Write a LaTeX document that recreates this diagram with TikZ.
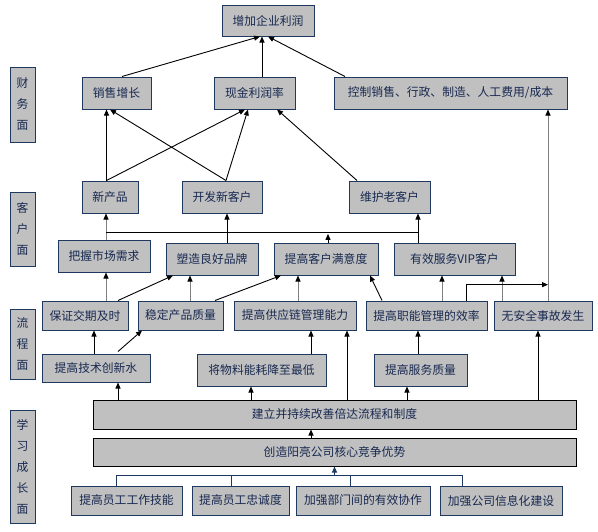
\documentclass[tikz,border=0pt]{standalone}
\usepackage{fontspec}
\setmainfont{Noto Sans CJK SC}
\usepackage{tikz}
\usetikzlibrary{arrows.meta, calc}

\definecolor{boxgray}{RGB}{192,192,192}
\definecolor{boxline}{RGB}{31,56,96}
\definecolor{boxtext}{RGB}{23,40,80}

\begin{document}
\begin{tikzpicture}[x=1pt, y=-1pt, line width=0.9pt,
    font=\fontsize{11.8}{14}\selectfont,
    box/.style={draw=boxline, fill=boxgray, text=boxtext, line width=1pt, inner sep=0pt},
    wide/.style={box, draw=black, minimum width=483pt},
    side/.style={box, minimum width=25pt, align=center, font=\fontsize{11.8}{21}\selectfont},
    arr/.style={-{Triangle[length=6pt, width=5pt]}},
    garr/.style={draw=black!50, -{Triangle[length=6pt, width=5pt, color=black]}},
    nline/.style={draw=boxline},
    narr/.style={draw=boxline, -{Triangle[length=6pt, width=5pt]}}]

\useasboundingbox (0,0) rectangle (598,531);

% ---- Side labels --------------------------------------------------------
\node[side, minimum height=75pt] (lblcw) at (22.5,104.5) {财\\务\\面};
\node[side, minimum height=74pt] (lblkh) at (22.5,229) {客\\户\\面};
\node[side, minimum height=70pt] (lbllc) at (22.5,344) {流\\程\\面};
\node[side, minimum height=113pt] (lblxx) at (22.5,466.5) {学\\习\\成\\长\\面};

% ---- Finance --------------------------------------------------------------
\node[box, minimum width=92pt, minimum height=31pt] (zjlr) at (268,20.5) {增加企业利润};
\node[box, minimum width=69pt, minimum height=32pt] (xszz) at (116.5,93) {销售增长};
\node[box, minimum width=81pt, minimum height=32pt] (xjlr) at (254.5,93) {现金利润率};
\node[box, minimum width=233pt, minimum height=32pt] (kzcb) at (450.5,93) {控制销售、行政、制造、人工费用/成本};

% ---- Customer -------------------------------------------------------------
\node[box, minimum width=56pt, minimum height=32pt] (xcp) at (110,197) {新产品};
\node[box, minimum width=80pt, minimum height=32pt] (kfkh) at (222,197) {开发新客户};
\node[box, minimum width=81pt, minimum height=32pt] (whkh) at (389.5,197) {维护老客户};
\node[box, minimum width=92pt, minimum height=32pt] (bwsc) at (104,256) {把握市场需求};
\node[box, minimum width=92pt, minimum height=32pt] (szpp) at (212,259) {塑造良好品牌};
\node[box, minimum width=104pt, minimum height=32pt] (tgmy) at (326,259) {提高客户满意度};
\node[box, minimum width=121pt, minimum height=32pt] (yxfw) at (454.5,259) {有效服务VIP客户};

% ---- Process --------------------------------------------------------------
\node[box, minimum width=86pt, minimum height=29pt] (bzjq) at (85,315.5) {保证交期及时};
\node[box, minimum width=85pt, minimum height=29pt] (wdzl) at (180.5,315.5) {稳定产品质量};
\node[box, minimum width=122pt, minimum height=29pt] (gylnl) at (295,315.5) {提高供应链管理能力};
\node[box, minimum width=121pt, minimum height=29pt] (znxl) at (426.5,315.5) {提高职能管理的效率};
\node[box, minimum width=98pt, minimum height=29pt] (aqsg) at (543,315.5) {无安全事故发生};
\node[box, minimum width=108pt, minimum height=28pt] (jscx) at (96,368) {提高技术创新水};
\node[box, minimum width=129pt, minimum height=32pt] (wlnh) at (261.5,370) {将物料能耗降至最低};
\node[box, minimum width=93pt, minimum height=32pt] (fwzl) at (420.5,370) {提高服务质量};

% ---- Learning and growth --------------------------------------------------
\node[wide, minimum height=29pt] (lcxd) at (334.5,414.5) {建立并持续改善倍达流程和制度};
\node[wide, minimum height=28pt] (hxys) at (334.5,452) {创造阳亮公司核心竞争优势};
\node[box, minimum width=111pt, minimum height=29pt] (gzjn) at (126.5,500.5) {提高员工工作技能};
\node[box, minimum width=97pt, minimum height=29pt] (zcd) at (240.5,500.5) {提高员工忠诚度};
\node[box, minimum width=134pt, minimum height=29pt] (bmxz) at (363,500.5) {加强部门间的有效协作};
\node[box, minimum width=122pt, minimum height=29pt] (xxh) at (501,500.5) {加强公司信息化建设};

% ---- Links into finance ---------------------------------------------------
\draw[arr] ([xshift=5.5pt]xszz.north) -- ([xshift=-8pt]zjlr.south);
\draw[arr] ([xshift=7.5pt]xjlr.north) -- ([xshift=-6pt]zjlr.south);
\draw[arr] ([xshift=-105.5pt]kzcb.north) -- (zjlr.south);
\draw[arr] ([xshift=-3.5pt]xcp.north) -- ([xshift=-10pt]xszz.south);
\draw[arr] ([xshift=-3.5pt]xcp.north) -- ([xshift=-9.5pt]xjlr.south);
\draw[arr] ([xshift=4pt]kfkh.north) -- ([xshift=-6.5pt]xszz.south);
\draw[arr] ([xshift=4pt]kfkh.north) -- ([xshift=-6.5pt]xjlr.south);
\draw[arr] ([xshift=-32.5pt]whkh.north) -- ([xshift=22.5pt]xjlr.south);

% ---- Links into customer --------------------------------------------------
\coordinate (bwtop) at ([xshift=2pt]bwsc.north);
\draw[garr] (bwtop) -- ([xshift=-4pt]xcp.south);
\draw[arr] ([xshift=-36.5pt]yxfw.north) -- ([xshift=28.5pt]whkh.south) coordinate[pos=0.333] (kbr);
\draw (kbr) -- (kbr -| bwtop);
\draw[arr] ([xshift=2pt]tgmy.north) -- ([xshift=2pt,yshift=-1pt]kbr -| tgmy.north);
\draw[arr] ([xshift=15pt]szpp.north) -- ([xshift=5pt]kfkh.south);
\draw[garr] ([xshift=21pt]bzjq.north) -- ([xshift=2pt]bwsc.south);
\draw[arr] ([xshift=33pt]bzjq.north) -- ([xshift=-39pt]szpp.south);
\draw[garr] ([xshift=9.5pt]wdzl.north) -- ([xshift=-22pt]szpp.south);
\draw[arr] ([xshift=34.5pt]wdzl.north) -- ([xshift=-45pt]tgmy.south);
\draw[garr] ([xshift=3pt]gylnl.north) -- ([xshift=-28pt]tgmy.south);
\draw[arr] ([xshift=-44.5pt]znxl.north) -- ([xshift=44pt]tgmy.south);
\draw[garr] ([xshift=15.5pt]znxl.north) -- ([xshift=-12.5pt]yxfw.south);
\draw[garr] ([xshift=-41pt]aqsg.north) -- ([xshift=47.5pt]yxfw.south);
\draw[garr] ([xshift=5pt]aqsg.north) -- ([xshift=97.5pt]kzcb.south) coordinate[pos=0.083] (aqmid);
\draw[arr] ([xshift=39.5pt]znxl.north) |- (aqmid);

% ---- Links into process ---------------------------------------------------
\draw[arr] ([xshift=-2pt]jscx.north) -- ([xshift=9pt]bzjq.south);
\draw[arr] ([xshift=22pt,yshift=2pt]jscx.north) -- ([xshift=-38.5pt]wdzl.south);
\draw[arr] ([xshift=49.5pt]wlnh.north) -- ([xshift=16pt]gylnl.south);
\draw[arr] ([xshift=-2.5pt]fwzl.north) -- ([xshift=-8.5pt]znxl.south);
\draw[arr] ([xshift=-216.5pt]lcxd.north) -- ([xshift=22pt]jscx.south);
\draw[arr] ([xshift=-83.5pt]lcxd.north) -- ([xshift=-10.5pt]wlnh.south);
\draw[arr] ([xshift=12.5pt]lcxd.north) -- ([xshift=52pt]gylnl.south);
\draw[arr] ([xshift=72.5pt]lcxd.north) -- ([xshift=-13.5pt]fwzl.south);
\draw[arr] ([xshift=203.5pt]lcxd.north) -- ([xshift=-5pt]aqsg.south);

% ---- Links into learning --------------------------------------------------
\draw[arr] ([xshift=-23.5pt]hxys.north) -- ([xshift=-23.5pt]lcxd.south);
\draw[nline] ([xshift=-10.5pt]gzjn.north) -- ++(0,-10) coordinate (lb) -| ([xshift=-39pt]xxh.north);
\draw[nline] ([xshift=-9.5pt]zcd.north) -- ++(0,-10);
\draw[nline] ([xshift=-13pt]bmxz.north) -- ++(0,-10);
\draw[narr] (lb -| hxys.south) -- (hxys.south);

\end{tikzpicture}
\end{document}
